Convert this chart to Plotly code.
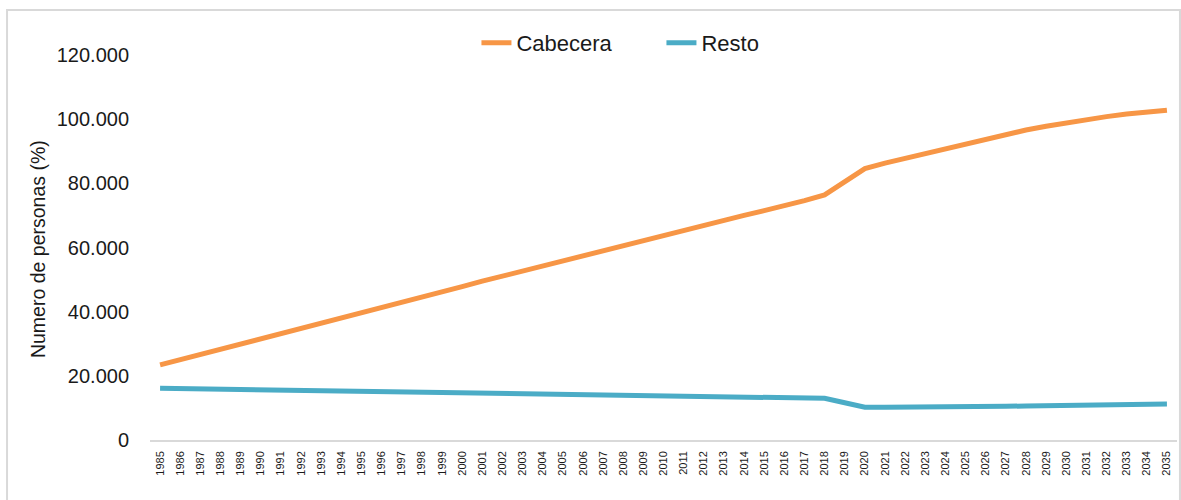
import plotly.graph_objects as go

# años y población
anios = [str(a) for a in range(1985, 2036)]

cabecera = [23400, 25000, 26700, 28300, 29900, 31600, 33200, 34800, 36400, 38100,
            39700, 41300, 43000, 44600, 46200, 47800, 49500, 51100, 52700, 54300,
            55900, 57500, 59100, 60700, 62300, 63900, 65400, 67000, 68500, 70000,
            71500, 73000, 74600, 76400, 80500, 84600, 86300, 87800, 89400, 91000,
            92500, 94000, 95400, 96600, 97800, 98900, 99900, 100800, 101600, 102200,
            102800]

resto = [16100, 16000, 15900, 15800, 15700, 15600, 15500, 15300, 15200, 15100,
         15000, 14900, 14800, 14700, 14600, 14500, 14400, 14300, 14200, 14100,
         14000, 13900, 13900, 13800, 13700, 13600, 13500, 13500, 13400, 13300,
         13200, 13100, 13100, 13000, 11600, 10200, 10200, 10200, 10200, 10200,
         10300, 10400, 10500, 10600, 10700, 10800, 10900, 11000, 11100, 11200,
         11200]

y_ticks = [0, 20000, 40000, 60000, 80000, 100000, 120000]

fuente = "Liberation Sans, Arial, sans-serif"

fig = go.Figure()
fig.add_trace(go.Scatter(x=anios, y=cabecera, name="Cabecera", mode="lines",
                         line=dict(color="#F79646", width=5)))
fig.add_trace(go.Scatter(x=anios, y=resto, name="Resto", mode="lines",
                         line=dict(color="#4BACC6", width=5)))

fig.update_layout(
    width=1181, height=500,
    margin=dict(l=150, r=4, t=55, b=60),
    plot_bgcolor="white", paper_bgcolor="white",
    separators=",.",
    font=dict(family=fuente, color="#1a1a1a"),
    showlegend=True,
    legend=dict(orientation="h", x=0.498, xanchor="center", y=1.031, yanchor="middle",
                font=dict(size=22), entrywidth=140, bgcolor="rgba(0,0,0,0)"),
    xaxis=dict(type="category", tickangle=-90, tickfont=dict(size=11),
               showgrid=False, showline=True, linecolor="#D9D9D9", linewidth=1.5,
               ticks="", ticklabelstandoff=5, range=[-0.5, 50.5]),
    yaxis=dict(range=[0, 120000], tickvals=y_ticks, tickformat=",.0f",
               tickfont=dict(size=20), showgrid=False, zeroline=False,
               showline=False, ticks="", ticklabelstandoff=20),
    shapes=[dict(type="rect", xref="paper", yref="paper",
                 x0=-0.1392, x1=1.0029, y0=-0.16, y1=1.117,
                 line=dict(color="#D9D9D9", width=2))],
    annotations=[dict(text="Numero de personas (%)", textangle=-90,
                      xref="paper", yref="paper", x=-0.109, y=0.496,
                      xanchor="center", yanchor="middle",
                      showarrow=False, font=dict(size=19.5))],
)

fig.write_html("out.html", config={"displayModeBar": False},
               post_script="document.body.style.margin='0';")
